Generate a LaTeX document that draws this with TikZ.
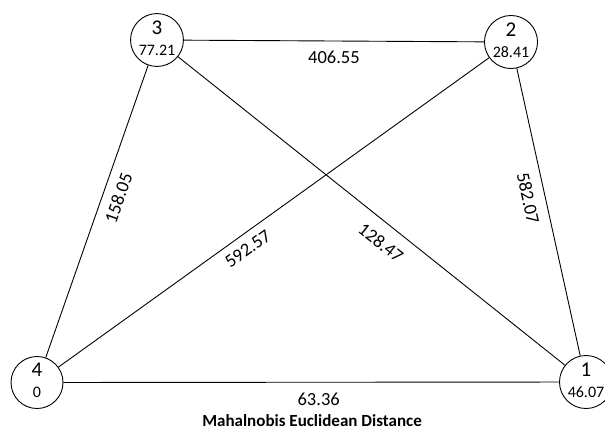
\documentclass[tikz,border=0pt]{standalone}
\usepackage{fontspec}
\setmainfont{Carlito}
\newcommand{\vlab}[2]{\begin{tabular}{@{}c@{}}\fontsize{21}{21}\selectfont #1\\[7pt]\fontsize{16}{16}\selectfont #2\end{tabular}}
\tikzset{
  vert/.style={circle, draw=black, line width=0.9pt, minimum size=52pt, inner sep=0pt},
  conn/.style={draw=black, line width=0.9pt},
  elab/.style={font=\fontsize{18.5}{18.5}\selectfont, inner sep=3pt},
}
\begin{document}
\begin{tikzpicture}[x=1pt,y=-1pt]
\useasboundingbox (0,0) rectangle (605,432);
\clip (0,0) rectangle (605,432);
\node[vert] (n3) at (157,40) {\vlab{3}{77.21}};
\node[vert] (n2) at (511,42) {\vlab{2}{28.41}};
\node[vert] (n4) at (37,382.5) {\vlab{4}{0}};
\node[vert] (n1) at (586,382) {\vlab{1}{46.07}};
\path[conn] (n3) -- node[elab, midway, below=7pt] {406.55} (n2);
\path[conn] (n4) -- node[elab, pos=0.565, sloped, below=6pt] {158.05} (n3);
\path[conn] (n4) -- node[elab, pos=0.42, sloped, below=5pt] {592.57} (n2);
\path[conn] (n3) -- node[elab, pos=0.555, sloped, below=9pt] {128.47} (n1);
\path[conn] (n2) -- node[elab, pos=0.44, sloped, below=7pt] {582.07} (n1);
\path[conn] (n4) -- node[elab, pos=0.515, below=7pt] (t0) {63.36} (n1);
\node[font=\fontsize{17}{17}\selectfont\bfseries] (title) at (312,421) {Mahalnobis Euclidean Distance};
\end{tikzpicture}
\end{document}
